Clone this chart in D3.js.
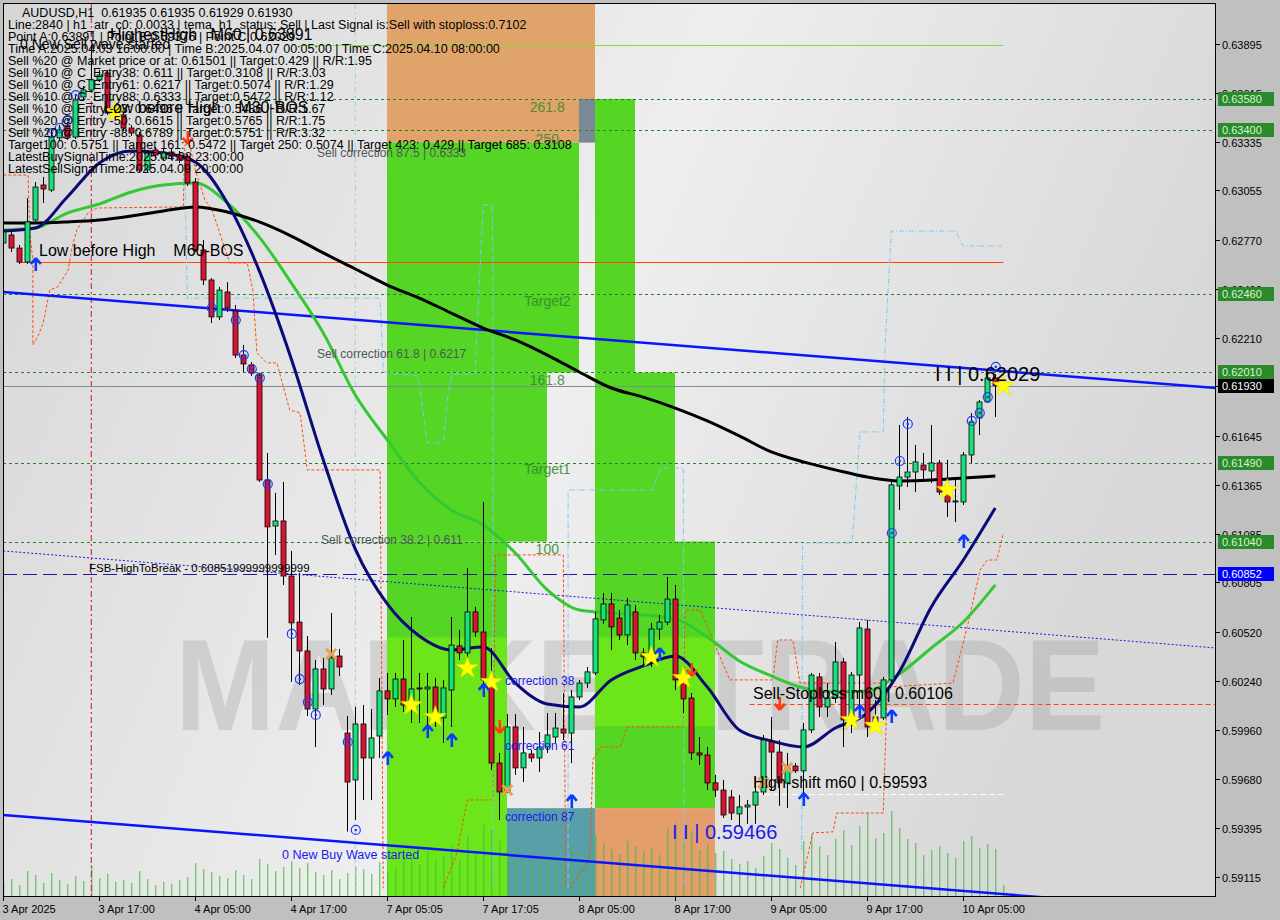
<!DOCTYPE html>
<html><head><meta charset="utf-8">
<script src="https://cdn.jsdelivr.net/npm/d3@7"></script>
<style>
html,body{margin:0;padding:0;background:#c0c0c0;}
svg{display:block;font-family:"Liberation Sans",Arial,sans-serif;}
text{white-space:pre;}
</style></head><body>
<svg id="c" width="1280" height="920"></svg>
<script>
// ---------------- DATA ----------------
const openP=[0.62753,0.62799,0.62724,0.62644,0.62885,0.63086,0.63057,0.63356,0.63425,0.63361,
0.63591,0.63631,0.63689,0.63729,0.63499,0.63488,0.63413,0.63373,0.63172,0.63287,
0.63241,0.63275,0.63258,0.63247,0.63103,0.62713,0.62541,0.62329,0.62472,0.62363,
0.62110,0.62053,0.61996,0.61393,0.61129,0.61158,0.60842,0.60578,0.60412,0.60079,
0.60309,0.60194,0.60383,0.59941,0.59672,0.59993,0.59798,0.59924,0.60183,0.60137,
0.60251,0.60131,0.60200,0.60194,0.60205,0.60028,0.60188,0.60441,0.60401,0.60636,
0.60521,0.60246,0.59769,0.59603,0.59976,0.59741,0.59821,0.59798,0.59861,0.59918,
0.59964,0.59941,0.60148,0.60228,0.60286,0.60590,0.60682,0.60601,0.60504,0.60636,
0.60401,0.60378,0.60538,0.60578,0.60710,0.60246,0.60142,0.59827,0.59815,0.59655,
0.59614,0.59574,0.59477,0.59517,0.59528,0.59603,0.59890,0.59832,0.59655,0.59752,
0.59724,0.59959,0.60263,0.60091,0.60142,0.60349,0.60016,0.60274,0.60538,0.60033,
0.60028,0.60246,0.61359,0.61410,0.61439,0.61479,0.61445,0.61491,0.61324,0.61267,
0.61267,0.61537,0.61749,0.61841,0.61979,0.61935];
const closeP=[0.62816,0.62724,0.62644,0.62874,0.63074,0.63063,0.63361,0.63402,0.63361,0.63574,
0.63631,0.63689,0.63717,0.63499,0.63488,0.63413,0.63384,0.63172,0.63270,0.63258,
0.63275,0.63252,0.63229,0.63097,0.62713,0.62541,0.62329,0.62483,0.62380,0.62110,
0.62059,0.62007,0.61393,0.61124,0.61158,0.60842,0.60573,0.60412,0.60079,0.60309,
0.60194,0.60372,0.60320,0.59660,0.59993,0.59798,0.59913,0.60183,0.60137,0.60251,
0.60102,0.60194,0.60194,0.60205,0.60062,0.60200,0.60446,0.60401,0.60636,0.60521,
0.60246,0.59769,0.59603,0.59976,0.59741,0.59827,0.59798,0.59861,0.59930,0.59970,
0.59941,0.60148,0.60228,0.60292,0.60596,0.60682,0.60550,0.60504,0.60676,0.60401,
0.60378,0.60538,0.60578,0.60710,0.60246,0.60137,0.59827,0.59815,0.59655,0.59614,
0.59471,0.59482,0.59517,0.59528,0.59603,0.59901,0.59832,0.59655,0.59741,0.59724,
0.59959,0.60274,0.60091,0.60142,0.60349,0.60016,0.60274,0.60544,0.59976,0.59987,
0.60246,0.61365,0.61410,0.61439,0.61497,0.61451,0.61491,0.61324,0.61267,0.61273,
0.61537,0.61726,0.61841,0.61979,0.61935,0.61930];
const highP=[0.62839,0.62816,0.62742,0.63011,0.63103,0.63132,0.63402,0.63430,0.63447,0.63602,
0.63654,0.63891,0.63746,0.63746,0.63528,0.63505,0.63430,0.63390,0.63287,0.63304,
0.63293,0.63293,0.63281,0.63264,0.63126,0.62770,0.62552,0.62501,0.62529,0.62397,
0.62168,0.62070,0.62007,0.61548,0.61319,0.61382,0.60986,0.60860,0.60498,0.60360,
0.60372,0.60630,0.60424,0.60039,0.60091,0.60102,0.60079,0.60257,0.60286,0.60286,
0.60475,0.60607,0.60286,0.60286,0.60257,0.60246,0.60607,0.60533,0.60888,0.60665,
0.61267,0.60429,0.59827,0.60050,0.60050,0.59976,0.59844,0.59947,0.60056,0.60056,
0.60171,0.60188,0.60246,0.60320,0.60636,0.60745,0.60745,0.60647,0.60716,0.60676,
0.60429,0.60573,0.60619,0.60837,0.60791,0.60286,0.60171,0.59918,0.59861,0.59701,
0.59672,0.59614,0.59586,0.59557,0.59689,0.59930,0.60033,0.59901,0.59827,0.59769,
0.59999,0.60286,0.60286,0.60228,0.60464,0.60372,0.60292,0.60578,0.60590,0.60131,
0.60263,0.61393,0.61709,0.61755,0.61594,0.61548,0.61709,0.61508,0.61508,0.61405,
0.61554,0.61778,0.61852,0.62029,0.62000,0.61935];
const lowP=[0.62736,0.62702,0.62633,0.62633,0.62874,0.62983,0.63046,0.63344,0.63344,0.63350,
0.63574,0.63620,0.63677,0.63488,0.63470,0.63396,0.63367,0.63161,0.63155,0.63241,
0.63229,0.63229,0.63212,0.63080,0.62702,0.62512,0.62294,0.62311,0.62357,0.62093,
0.62013,0.61990,0.61382,0.60487,0.60963,0.60791,0.60234,0.60217,0.60039,0.59861,
0.60102,0.60160,0.60269,0.59376,0.59442,0.59557,0.59557,0.59798,0.60045,0.60091,
0.60062,0.59999,0.59999,0.59976,0.59976,0.59884,0.59976,0.60360,0.60320,0.60492,
0.60188,0.59729,0.59442,0.59597,0.59701,0.59660,0.59775,0.59718,0.59827,0.59884,
0.59901,0.59769,0.60131,0.60200,0.60274,0.60567,0.60418,0.60475,0.60446,0.60360,
0.60326,0.60320,0.60475,0.60561,0.60188,0.60056,0.59787,0.59758,0.59614,0.59574,
0.59454,0.59442,0.59402,0.59420,0.59420,0.59586,0.59614,0.59523,0.59511,0.59712,
0.59557,0.59941,0.60033,0.60033,0.60114,0.59861,0.59941,0.60056,0.59918,0.59959,
0.60016,0.60228,0.61221,0.61353,0.61324,0.61393,0.61376,0.61307,0.61181,0.61152,
0.61250,0.61491,0.61651,0.61835,0.61755,0.61929];
const volumes=[1500,1800,1200,2600,2200,1400,2400,1700,1300,2100,1600,3200,1900,
2300,1500,1700,1400,2600,1800,1200,1500,1300,1700,2000,3400,2800,
2500,2100,1900,2700,2200,1800,3800,3300,2600,3000,3600,2900,3400,2500,2200,2700,1800,
2400,3100,2800,2300,3500,2600,3000,
4200,3900,3300,4600,3800,4100,5200,3700,6100,4400,7200,6800,5600,
4800,5100,3900,3500,4300,3800,4600,4100,5300,4400,3900,
6200,5400,4800,4300,5600,5100,4600,4900,4200,6800,7400,5900,6600,4700,5200,4400,
4600,3800,3300,3600,2900,4100,5400,4800,3900,3200,5600,6300,5100,4200,5800,6700,5200,7100,8400,5900,6400,
8600,6900,5800,5400,4200,4700,5100,4400,3900,5600,6100,4900,5300,4800,1200];

// moving averages sampled every 4 bars (bar 0..124)
const maBars=[0,4,8,12,16,20,24,28,32,36,40,44,48,52,56,60,64,68,72,76,80,84,88,92,96,100,104,108,112,116,120,124];
const maSlow=[0.62868,0.62868,0.62874,0.62885,0.62908,0.62937,0.62960,0.62931,0.62874,0.62793,0.62696,0.62604,0.62512,0.62437,0.62351,0.62265,0.62197,0.62110,0.62013,0.61921,0.61869,0.61806,0.61732,0.61646,0.61554,0.61497,0.61451,0.61410,0.61388,0.61393,0.61405,0.61416];
const maFast=[0.62822,0.62839,0.63017,0.63212,0.63281,0.63270,0.63218,0.62983,0.62593,0.62088,0.61508,0.60997,0.60682,0.60498,0.60418,0.60435,0.60228,0.60108,0.60091,0.60246,0.60326,0.60383,0.60205,0.59959,0.59896,0.59861,0.59970,0.60056,0.60292,0.60665,0.60934,0.61233];
const maMid=[0.62828,0.62839,0.62925,0.62977,0.63046,0.63086,0.63097,0.62983,0.62787,0.62524,0.62237,0.61881,0.61623,0.61382,0.61221,0.61135,0.60974,0.60762,0.60647,0.60630,0.60619,0.60596,0.60492,0.60355,0.60269,0.60200,0.60177,0.60183,0.60280,0.60429,0.60578,0.60791];

// step/trail lines [bar, price]
const trailA=[[0,0.63143],[3.1,0.63143],[3.3,0.62810],[3.7,0.62656],[3.7,0.62168],[4.3,0.62214],[5,0.62294],[5.8,0.62483],[6.8,0.62501],[8.1,0.62598],[8.6,0.62730],[9.2,0.62828],[10,0.62885],[10.6,0.62925],[11.7,0.62954],[22.5,0.62960],[22.7,0.63316],[23.3,0.63316],[24,0.63172],[25.2,0.63000],[26.1,0.62943],[28.3,0.62638],[30.5,0.62638],[31.2,0.62483],[31.7,0.62122],[32.9,0.62065],[34.2,0.62065],[35,0.61929],[35.8,0.61795],[37.1,0.61778],[38,0.61451],[47.1,0.61451],[47.5,0.5905]];
const trailB=[[55,0.5905],[56.7,0.59253],[58,0.59557],[61.2,0.59557],[61.5,0.60963],[70,0.60963],[70.3,0.5905]];
const trailC=[[70.8,0.5905],[73.3,0.59213],[73.7,0.59787],[74.6,0.59861],[77.1,0.59861],[78,0.59976],[85,0.59976],[85.2,0.60647],[87.1,0.60647],[88.7,0.60475],[90.8,0.60246],[96.2,0.60246],[96.8,0.60475],[98.7,0.60475],[99.6,0.60228],[110.2,0.60228]];
const trailD=[[99.6,0.5905],[101.2,0.59368],[103.7,0.59374],[104.2,0.59482],[110,0.59482],[110.5,0.60205],[118.7,0.60228],[120.5,0.60550],[122.1,0.60877],[123,0.60934],[124.2,0.60934],[125,0.61089]];
const stepA=[[22.7,0.63143],[23,0.62437],[47.1,0.62437],[47.5,0.62013],[51.8,0.61990],[52.3,0.61852],[53,0.61606],[55,0.61606],[55.5,0.61852],[56.1,0.62002],[59,0.62002],[59.2,0.62237],[59.6,0.62616],[60,0.62971],[61.1,0.62971],[61.2,0.62656],[61.2,0.5905]];
const stepB=[[70.6,0.5905],[70.6,0.61336],[81.2,0.61336],[82.1,0.61462],[85,0.61462],[85.1,0.5905]];
const stepC=[[99.8,0.59270],[99.9,0.61032],[106.1,0.61032],[106.7,0.61411],[107.1,0.61669],[110,0.61669],[110.2,0.62139],[111,0.62822],[119.1,0.62822],[119.9,0.62736],[124.8,0.62736]];

// channel / trend lines
const upperTrend=[[0,0.62472],[151.6,0.61921]];
const lowerTrend=[[0,0.59471],[151.6,0.58920]];
const dottedTrend=[[0,0.60986],[151.6,0.60429]];

// zones [bar0, bar1, priceTop, priceBottom, kind]
const zones=[
 [47.96,73.96,0.6413,0.6333,"orange"],
 [71.96,73.96,0.6358,0.6333,"slate"],
 [47.96,71.96,0.6333,0.6201,"green"],
 [47.96,67.96,0.6201,0.6104,"green"],
 [47.96,62.96,0.6104,0.5900,"green"],
 [47.96,62.96,0.6049,0.5900,"lime"],
 [73.96,78.96,0.6358,0.6201,"green"],
 [73.96,83.96,0.6201,0.6104,"green"],
 [73.96,88.96,0.6104,0.5951,"green"],
 [73.96,88.96,0.6049,0.5998,"lime"],
 [62.96,73.96,0.5951,0.5900,"teal"],
 [73.96,88.96,0.5951,0.5900,"orange2"]];
const zoneColor={orange:"#e0a46a",slate:"#7b8898",green:"#55d524",lime:"#6ce61a",teal:"#5a9fa7",orange2:"#e49d6b"};
const fibLabels=[["261.8",0.63535],["250",0.63350],["Target2",0.62420],["161.8",0.61965],["Target1",0.61455],["100",0.60995]];

const levelLines=[0.63580,0.63400,0.62460,0.62010,0.61490,0.61040];
const fsbLevel=0.60852, bidLevel=0.61930, bosLevel=0.62644, highestHigh=0.63891;
const stopLevel=0.60106, shiftLevel=0.59593;

const circleMarks=[[6,0.63384],[7,0.63413],[8,0.63459],[9,0.63602],[26,0.62380],[29,0.62311],[30,0.62110],[31,0.62030],[32,0.61979],[33,0.61370],[36,0.60510],[37,0.60251],[38,0.60119],[39,0.60045],[43,0.59890],[44,0.59385],[111,0.61089],[112,0.61502],[113,0.61715],[121,0.61732],[122,0.61778],[123,0.61869],[124,0.62042]];
const starMarks=[[14,0.63505],[51,0.60102],[54,0.60033],[58,0.60314],[61,0.60234],[81,0.60378],[85,0.60257],[106,0.60016],[109,0.59982],[118,0.61336],[125,0.61933]];
const upArrows=[[4,0.62667],[48,0.59833],[53,0.59987],[56,0.59936],[60,0.60223],[71,0.59586],[82,0.60429],[100,0.59597],[107,0.60102],[111,0.60073],[120,0.61078]];
const downArrows=[[23,0.63356],[62,0.59976],[86,0.60303],[97,0.60108]];
const crossMarks=[[41,0.60395],[63,0.59614],[95,0.59655],[98,0.59741]];

const priceTicks=[0.63895,0.63615,0.63335,0.63055,0.62770,0.62490,0.62210,0.61930,0.61645,0.61365,0.61085,0.60805,0.60520,0.60240,0.59960,0.59680,0.59395,0.59115];
const timeBars=[0,12,24,36,48,60,72,84,96,108,120];
const timeLabels=["3 Apr 2025","3 Apr 17:00","4 Apr 05:00","4 Apr 17:00","7 Apr 05:05","7 Apr 17:05","8 Apr 05:00","8 Apr 17:00","9 Apr 05:00","9 Apr 17:00","10 Apr 05:00"];
const headerLines=[
"Line:2840 | h1_atr_c0: 0.0033 | tema_h1_status: Sell | Last Signal is:Sell with stoploss:0.7102",
"Point A:0.63891 | Point B:0.59376 | Point C:0.62029",
"Time A:2025.04.03 16:00:00 | Time B:2025.04.07 00:05:00 | Time C:2025.04.10 08:00:00",
"Sell %20 @ Market price or at: 0.61501 || Target:0.429 || R/R:1.95",
"Sell %10 @ C_Entry38: 0.611 || Target:0.3108 || R/R:3.03",
"Sell %10 @ C_Entry61: 0.6217 || Target:0.5074 || R/R:1.29",
"Sell %10 @ C_Entry88: 0.6333 || Target:0.5472 || R/R:1.12",
"Sell %10 @ Entry -23: 0.6496 || Target:0.5486 || R/R:1.67",
"Sell %20 @ Entry -50: 0.6615 || Target:0.5765 || R/R:1.75",
"Sell %20 @ Entry -88: 0.6789 || Target:0.5751 || R/R:3.32",
"Target100: 0.5751 || Target 161: 0.5472 || Target 250: 0.5074 || Target 423: 0.429 || Target 685: 0.3108",
"LatestBuySignalTime:2025.04.08 23:00:00",
"LatestSellSignalTime:2025.04.09 20:00:00"];
const titleText="AUDUSD,H1  0.61935 0.61935 0.61929 0.61930";

// ---------------- DRAW ----------------
const L=3,R=1216,T=3,B=897;
const x=d3.scaleLinear().domain([0,1]).range([3.3,11.3]);
const y=d3.scaleLinear().domain([0.59115,0.63895]).range([877,44]);
const vol=d3.scaleLinear().domain([0,10000]).range([B,B-100]);
const svg=d3.select("#c");
const defs=svg.append("defs");
const lg=defs.append("linearGradient").attr("id","bg").attr("x1",0).attr("x2",1).attr("y1",0).attr("y2",0.3);
[["0","#d6d6d6"],["0.55","#eeeeee"],["1","#d8d8d8"]].forEach(s=>lg.append("stop").attr("offset",s[0]).attr("stop-color",s[1]));
defs.append("clipPath").attr("id","clip").append("rect").attr("x",L).attr("y",T).attr("width",R-L).attr("height",B-T);
svg.append("rect").attr("width",1280).attr("height",920).attr("fill","#c0c0c0");
svg.append("rect").attr("x",L).attr("y",T).attr("width",R-L).attr("height",B-T).attr("fill","url(#bg)");
const g=svg.append("g").attr("clip-path","url(#clip)");

// watermark
g.append("text").attr("x",175).attr("y",730).attr("textLength",930).attr("lengthAdjust","spacingAndGlyphs")
 .attr("font-size",130).attr("font-weight","bold").attr("fill","#8c8c8c").attr("opacity",0.25).text("MARKETTRADE");

// zones
g.selectAll(".zone").data(zones).join("rect")
 .attr("x",d=>x(d[0])).attr("width",d=>x(d[1])-x(d[0]))
 .attr("y",d=>y(d[2])).attr("height",d=>y(d[3])-y(d[2]))
 .attr("fill",d=>zoneColor[d[4]]);
g.selectAll(".fib").data(fibLabels).join("text")
 .attr("x",x(68)).attr("y",d=>y(d[1])+5).attr("text-anchor","middle").attr("font-size",14)
 .attr("fill","#2f8a2f").attr("opacity",0.85).text(d=>d[0]);

// volume
g.selectAll(".vol").data(volumes).join("line")
 .attr("x1",(d,i)=>x(i)+0.5).attr("x2",(d,i)=>x(i)+0.5)
 .attr("y1",B).attr("y2",d=>vol(d)).attr("stroke","#3fbf3f").attr("stroke-width",1);

// vertical time markers
g.append("line").attr("x1",x(11)).attr("x2",x(11)).attr("y1",T).attr("y2",B).attr("stroke","#c8143c").attr("stroke-dasharray","6,3,2,3");
g.append("line").attr("x1",x(44)).attr("x2",x(44)).attr("y1",T).attr("y2",B).attr("stroke","#9fd3d3").attr("stroke-dasharray","6,3,2,3");

// horizontal levels
g.selectAll(".lvl").data(levelLines).join("line")
 .attr("x1",L).attr("x2",R).attr("y1",d=>Math.round(y(d))+0.5).attr("y2",d=>Math.round(y(d))+0.5)
 .attr("stroke","#2a7f2a").attr("stroke-dasharray","3,3");
g.append("line").attr("x1",L).attr("x2",R).attr("y1",Math.round(y(fsbLevel))+0.5).attr("y2",Math.round(y(fsbLevel))+0.5)
 .attr("stroke","#1a1aa0").attr("stroke-dasharray","14,6");
g.append("line").attr("x1",L).attr("x2",R).attr("y1",Math.round(y(bidLevel))+0.5).attr("y2",Math.round(y(bidLevel))+0.5)
 .attr("stroke","#808a90");
g.append("line").attr("x1",x(2)).attr("x2",x(125)).attr("y1",Math.round(y(bosLevel))+0.5).attr("y2",Math.round(y(bosLevel))+0.5)
 .attr("stroke","#ff4500").attr("stroke-width",1.2);
g.append("line").attr("x1",x(37)).attr("x2",x(125)).attr("y1",Math.round(y(highestHigh))+0.5).attr("y2",Math.round(y(highestHigh))+0.5)
 .attr("stroke","#7ee03a").attr("stroke-width",1.2);
g.append("line").attr("x1",x(93.3)).attr("x2",R).attr("y1",Math.round(y(stopLevel))+0.5).attr("y2",Math.round(y(stopLevel))+0.5)
 .attr("stroke","#ff4500").attr("stroke-dasharray","5,3");
g.append("line").attr("x1",x(94)).attr("x2",x(125)).attr("y1",Math.round(y(shiftLevel))+0.5).attr("y2",Math.round(y(shiftLevel))+0.5)
 .attr("stroke","#ffffff").attr("stroke-dasharray","6,3");

const ln=d3.line().x(d=>x(d[0])).y(d=>y(d[1]));
[trailA,trailB,trailC,trailD].forEach(s=>g.append("path").attr("d",ln(s)).attr("fill","none")
 .attr("stroke","#ff4a10").attr("stroke-width",1).attr("stroke-dasharray","3,2"));
[stepA,stepB,stepC].forEach(s=>g.append("path").attr("d",ln(s)).attr("fill","none")
 .attr("stroke","#7cc8f4").attr("stroke-width",1).attr("stroke-dasharray","5,2,1,2"));

// trend lines
g.append("path").attr("d",ln(dottedTrend)).attr("fill","none").attr("stroke","#1a1ae0").attr("stroke-dasharray","2,2");
g.append("path").attr("d",ln(upperTrend)).attr("fill","none").attr("stroke","#0a14ff").attr("stroke-width",2.5);
g.append("path").attr("d",ln(lowerTrend)).attr("fill","none").attr("stroke","#0a14ff").attr("stroke-width",2.5);

// moving averages
const maLine=d3.line().x(d=>x(d[0])).y(d=>y(d[1])).curve(d3.curveMonotoneX);
const z=(arr)=>maBars.map((b,k)=>[b,arr[k]]);
g.append("path").attr("d",maLine(z(maMid))).attr("fill","none").attr("stroke","#34c934").attr("stroke-width",3);
g.append("path").attr("d",maLine(z(maSlow))).attr("fill","none").attr("stroke","#000").attr("stroke-width",3);
g.append("path").attr("d",maLine(z(maFast))).attr("fill","none").attr("stroke","#0a0a78").attr("stroke-width",3);

// candles
const cg=g.append("g");
openP.forEach((o,i)=>{
  const c=closeP[i], cx=Math.round(x(i));
  cg.append("line").attr("x1",cx+0.5).attr("x2",cx+0.5).attr("y1",y(highP[i])).attr("y2",y(lowP[i])).attr("stroke","#000");
  const top=Math.min(y(o),y(c)), h=Math.max(1,Math.abs(y(o)-y(c)));
  cg.append("rect").attr("x",cx-2).attr("y",top).attr("width",5).attr("height",h)
    .attr("fill",c>=o?"#16e27a":"#dc1433").attr("stroke","#000").attr("stroke-width",0.8);
});

// markers
g.selectAll(".circ").data(circleMarks).join("circle").attr("cx",d=>x(d[0])+0.5).attr("cy",d=>y(d[1]))
 .attr("r",4.5).attr("fill","none").attr("stroke","#1e3cff").attr("stroke-width",1.2);
g.selectAll(".circd").data(circleMarks).join("circle").attr("cx",d=>x(d[0])+0.5).attr("cy",d=>y(d[1]))
 .attr("r",1.3).attr("fill","#1e3cff");
const star=d3.symbol().type(d3.symbolStar).size(150);
g.selectAll(".star").data(starMarks).join("path").attr("d",star)
 .attr("transform",d=>`translate(${x(d[0])},${y(d[1])})`).attr("fill","#ffff00").attr("stroke","#e6d200").attr("stroke-width",0.5);
const upPath="M0,0 L-5,6 M0,0 L5,6 M0,0 L0,13";
g.selectAll(".up").data(upArrows).join("path").attr("d",upPath)
 .attr("transform",d=>`translate(${x(d[0])+0.5},${y(d[1])})`).attr("fill","none").attr("stroke","#0a3cff").attr("stroke-width",2.6);
const dnPath="M0,0 L-5,-6 M0,0 L5,-6 M0,0 L0,-13";
g.selectAll(".dn").data(downArrows).join("path").attr("d",dnPath)
 .attr("transform",d=>`translate(${x(d[0])+0.5},${y(d[1])+6})`).attr("fill","none").attr("stroke","#ff3a10").attr("stroke-width",2.6);
g.selectAll(".cx").data(crossMarks).join("path").attr("d","M-5,-5 L5,5 M-5,5 L5,-5")
 .attr("transform",d=>`translate(${x(d[0])},${y(d[1])})`).attr("stroke","#e8a050").attr("stroke-width",3);

// annotation texts
function txt(s,px,py,size,color){return g.append("text").attr("x",px).attr("y",py).attr("font-size",size).attr("fill",color).attr("xml:space","preserve").text(s);}
txt(titleText,22,17,12.5,"#000");
headerLines.forEach((s,k)=>txt(s,8,29+k*12,12.5,"#000"));
txt("HighestHigh   M60 | 0.63891",110,40,16,"#000");
txt("0 New Sell wave started",20,49,14,"#000");
txt("Low before High    M30-BOS",104,113,16,"#000");
txt("Low before High    M60-BOS",39,256,16,"#000");
txt("Sell correction 87.5 | 0.6333",317,157,12,"#4c5858");
txt("Sell correction 61.8 | 0.6217",317,358,12,"#4c5858");
txt("Sell correction 38.2 | 0.611",321,544,12,"#4c5858");
txt("FSB-HighToBreak - 0.60851999999999999",89,572,11.5,"#000");
txt("correction 38",505,685,12,"#1a1aee");
txt("correction 61",505,750,12,"#1a1aee");
txt("correction 87",505,821,12,"#1a1aee");
txt("0 New Buy Wave started",282,859,12.5,"#1a1aee");
txt("Sell-Stoploss m60 | 0.60106",753,699,16,"#000");
txt("High-shift m60 | 0.59593",753,788,16,"#000");
txt("I I | 0.59466",672,839,20,"#1a1aee");
txt("I I | 0.62029",935,381,20,"#000");

// plot border
svg.append("rect").attr("x",L+0.5).attr("y",T+0.5).attr("width",R-L-1).attr("height",B-T-1).attr("fill","none").attr("stroke","#000");

// right price axis
const ax=svg.append("g").attr("font-size",11).attr("fill","#000");
priceTicks.forEach(p=>{
  const yy=Math.round(y(p))+0.5;
  ax.append("line").attr("x1",R).attr("x2",R+4).attr("y1",yy).attr("y2",yy).attr("stroke","#000");
  ax.append("text").attr("x",1222).attr("y",yy+4).text(p.toFixed(5));
});
function tag(p,bg,fg){const yy=Math.round(y(p));
  ax.append("rect").attr("x",1218).attr("y",yy-7).attr("width",56).attr("height",14).attr("fill",bg);
  ax.append("text").attr("x",1222).attr("y",yy+4).attr("fill",fg).text(p.toFixed(5));}
levelLines.forEach(p=>tag(p,"#2b8a2b","#d8f5d0"));
tag(fsbLevel,"#0000ff","#ffffff");
tag(bidLevel,"#000000","#ffffff");

// bottom time axis
timeBars.forEach((b,k)=>{
  const xx=Math.round(x(b))+0.5;
  ax.append("line").attr("x1",xx).attr("x2",xx).attr("y1",B).attr("y2",B+4).attr("stroke","#000");
  ax.append("text").attr("x",xx-1).attr("y",913).text(timeLabels[k]);
});
</script>
</body></html>
